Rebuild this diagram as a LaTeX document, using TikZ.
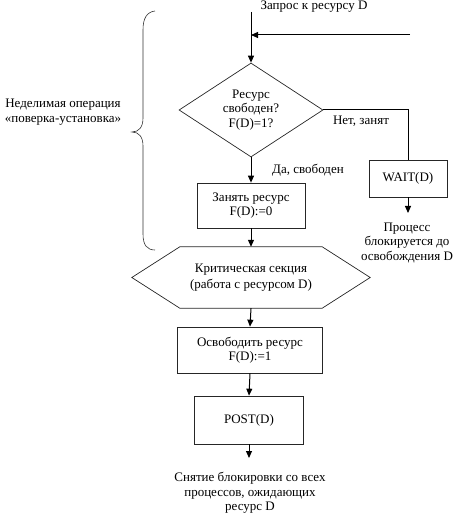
\documentclass[tikz,border=0pt]{standalone}
\usepackage{fontspec}
\setmainfont{Liberation Serif}
\usetikzlibrary{shapes.geometric,arrows.meta}
\begin{document}
\begin{tikzpicture}[x=1pt,y=-1pt,
  every node/.style={font=\fontsize{13}{14.5}\selectfont, align=center, inner sep=0pt},
  shapeline/.style={draw=black!85, line width=0.7pt},
  boxnode/.style={shapeline, rectangle},
  dianode/.style={shapeline, shape=diamond, aspect=1.53, minimum width=144pt, minimum height=94pt},
  flow/.style={line width=1pt, draw=black},
  arr/.style={flow, -{Triangle[length=7pt,width=6pt]}}]
\useasboundingbox (0,0) rectangle (460,518);

% brace and its label
\draw[draw=black!80, line width=0.6pt] (155,11) .. controls (147,12) and (143,18) .. (143,30)
  -- (143,118) .. controls (143,127) and (139,132) .. (132,132)
  .. controls (139,132) and (143,137) .. (143,146)
  -- (143,234) .. controls (143,245) and (147,250) .. (155,250);
\node (atomic) at (63,112) {Неделимая операция\\«поверка-установка»};

% top
\coordinate (start) at (251,12);
\node (req) at (314,7) {Запрос к ресурсу D};
\coordinate (back) at (410,35);
\coordinate (join) at (251,35);

\node[dianode] (dia) at (251,110) {Ресурс\\свободен?\\F(D)=1?};
\node[boxnode, minimum width=78pt, minimum height=37pt] (wait) at (408,178.5) {WAIT(D)};
\coordinate (waitend) at (408,213);
\node (block) at (407,243) {Процесс\\блокируется до\\освобождения D};

\node[boxnode, minimum width=108pt, minimum height=45pt] (take) at (251,205.5) {Занять ресурс\\F(D):=0};
\node[minimum width=142pt, minimum height=61pt] (crit) at (251,277.5) {Критическая секция\\[1.5pt](работа с ресурсом D)};
\draw[shapeline] (crit.north west) -- (crit.north east) -- ([xshift=48pt]crit.east)
  -- (crit.south east) -- (crit.south west) -- ([xshift=-48pt]crit.west) -- cycle;
\node[boxnode, minimum width=145pt, minimum height=46pt] (free) at (250,350) {Освободить ресурс\\F(D):=1};
\node[boxnode, minimum width=109pt, minimum height=48pt] (post) at (249,420) {POST(D)};
\coordinate (postend) at (249,458);
\node (unblock) at (250,493) {Снятие блокировки со всех\\процессов, ожидающих\\ресурс D};

\node (yes) at (308,170) {Да, свободен};
\node (no) at (361,121) {Нет, занят};

% connectors
\draw[arr] (start) -- (dia.north);
\draw[arr] (back) -- (join);
\draw[flow] (dia.east) -| (wait.north);
\draw[arr] (wait.south) -- (waitend);
\draw[arr] (dia.south) -- (take.north);
\draw[arr] (take.south) -- (crit.north);
\draw[arr] (crit.south) -- (free.north);
\draw[arr] (free.south) -- (post.north);
\draw[arr] (post.south) -- (postend);
\end{tikzpicture}
\end{document}
